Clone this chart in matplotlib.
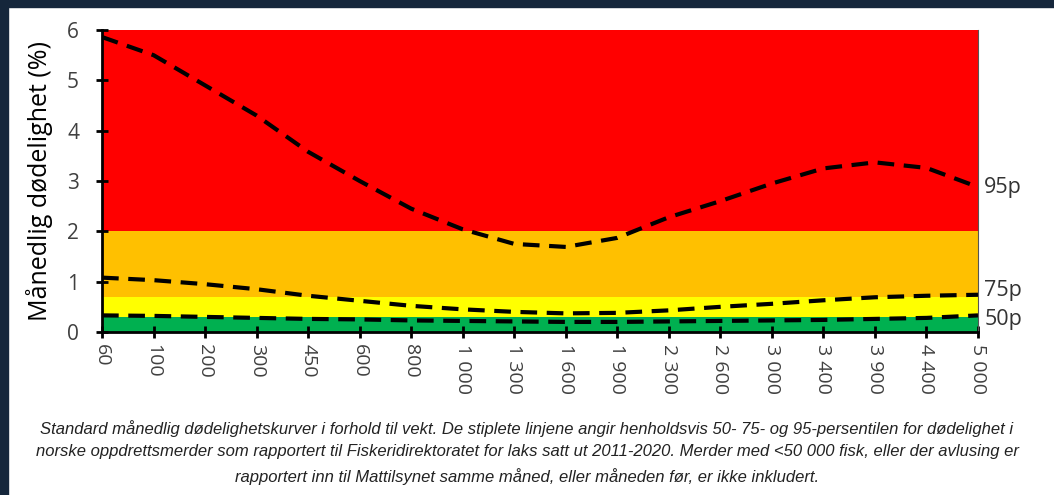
import matplotlib.pyplot as plt
import matplotlib.patches as mpatches
import numpy as np

plt.rcParams['font.family'] = ['Open Sans', 'DejaVu Sans']

weights = ['60', '100', '200', '300', '450', '600', '800', '1 000', '1 300', '1 600',
           '1 900', '2 300', '2 600', '3 000', '3 400', '3 900', '4 400', '5 000']
p95 = [5.86, 5.5, 4.9, 4.3, 3.58, 3.0, 2.45, 2.04, 1.75, 1.69,
       1.87, 2.28, 2.6, 2.95, 3.25, 3.37, 3.26, 2.88]
p75 = [1.08, 1.03, 0.95, 0.85, 0.72, 0.62, 0.52, 0.45, 0.4, 0.37,
       0.38, 0.43, 0.5, 0.56, 0.63, 0.69, 0.72, 0.74]
p50 = [0.33, 0.32, 0.3, 0.28, 0.26, 0.25, 0.23, 0.22, 0.21, 0.2,
       0.2, 0.21, 0.22, 0.23, 0.24, 0.26, 0.28, 0.33]

# colour bands (lower, upper, colour)
band_edges = [0, 0.3, 0.7, 2, 6]
band_colors = ['#00b050', '#ffff00', '#ffc000', '#ff0000']

caption = ("Standard månedlig dødelighetskurver i forhold til vekt. De stiplete linjene angir henholdsvis 50- 75- og 95-persentilen for dødelighet i\n"
           "norske oppdrettsmerder som rapportert til Fiskeridirektoratet for laks satt ut 2011-2020. Merder med <50 000 fisk, eller der avlusing er\n"
           "rapportert inn til Mattilsynet samme måned, eller måneden før, er ikke inkludert.")

fig = plt.figure(figsize=(10.54, 4.95), dpi=100)
ax = fig.add_axes([0.0968, 0.3293, 0.8311, 0.6101])

# dark frame on top and left
fig.patches.append(mpatches.Rectangle((0, 0.986), 1, 0.014, transform=fig.transFigure,
                                      color='#15263b', zorder=0))
fig.patches.append(mpatches.Rectangle((0, 0), 0.0075, 1, transform=fig.transFigure,
                                      color='#15263b', zorder=0))

x = np.arange(len(weights))
for lo, hi, c in zip(band_edges[:-1], band_edges[1:], band_colors):
    ax.axhspan(lo, hi, color=c, zorder=0, lw=0)

for series in (p95, p75, p50):
    ax.plot(x, series, color='black', lw=3, dashes=(4, 2.3), zorder=2)

last = len(weights) - 1
ax.text(last + 0.12, p95[-1], '95p', fontsize=15.5, va='center', color='#333333')
ax.text(last + 0.12, p75[-1] + 0.08, '75p', fontsize=15.5, va='center', color='#333333')
ax.text(last + 0.12, p50[-1] - 0.08, '50p', fontsize=15.5, va='center', color='#333333')

ax.set_xlim(0, last)
ax.set_ylim(0, 6)
ax.set_xticks(x)
ax.set_xticklabels(weights, rotation=270, fontsize=14, color='#404040')
ax.set_yticks(range(7))
ax.tick_params(axis='y', labelsize=15, labelcolor='#404040', direction='inout',
               length=9, width=2, pad=12)
ax.tick_params(axis='x', direction='inout', length=9, width=2, pad=4)
ax.set_ylabel('Månedlig dødelighet (%)', fontsize=18, labelpad=10)

ax.spines['top'].set_visible(False)
ax.spines['left'].set_linewidth(2)
ax.spines['bottom'].set_linewidth(2)
ax.spines['right'].set_linewidth(0.8)
ax.spines['right'].set_color('#555555')

fig.text(0.5, 0.086, caption, ha='center', va='center', fontsize=12, style='italic',
         family=['Liberation Sans Narrow', 'Liberation Sans', 'DejaVu Sans'],
         linespacing=1.65, color='#222222')

plt.savefig('out.png', dpi=100)
